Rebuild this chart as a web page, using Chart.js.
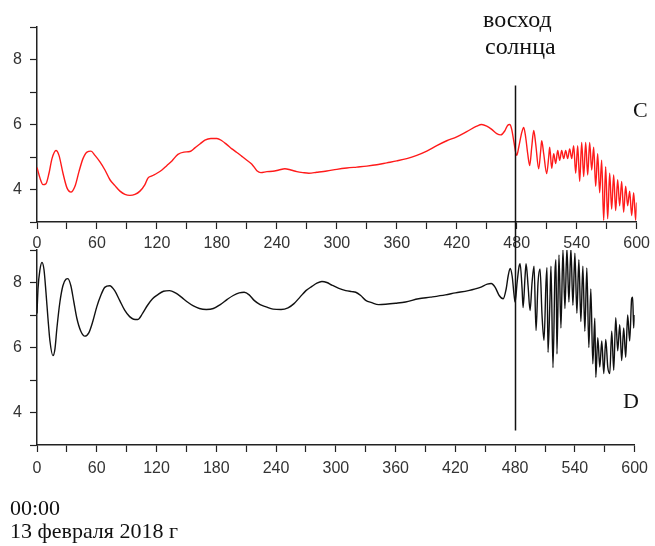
<!DOCTYPE html>
<html><head><meta charset="utf-8">
<script src="https://cdn.jsdelivr.net/npm/chart.js@4.4.1/dist/chart.umd.min.js"></script>
<style>
body{margin:0;background:#fff;width:655px;height:546px;overflow:hidden;position:relative;}
canvas{position:absolute;left:0;top:0;}
.t{position:absolute;color:#111;font-family:"Liberation Serif","Times New Roman",serif;white-space:nowrap;line-height:1;}
</style></head><body>
<canvas id="c1" width="655" height="546"></canvas>
<canvas id="c2" width="655" height="546"></canvas>
<div class="t" style="left:483px;top:7px;font-size:24px">восход</div>
<div class="t" style="left:485px;top:34px;font-size:24px">солнца</div>
<div class="t" style="left:633px;top:99px;font-size:22px">C</div>
<div class="t" style="left:623px;top:390px;font-size:22px">D</div>
<div class="t" style="left:10px;top:497px;font-size:22px">00:00</div>
<div class="t" style="left:10px;top:520px;font-size:22px">13 февраля 2018 г</div>
<script>
// Panel C (red)
const cTimes = [0,3,6,9,12,15,19,22,26,30,34,38,42,46,50,54,58,63,68,73,78,83,88,93,98,103,108,111,115,120,125,130,135,141,147,153,158,163,168,174,180,185,190,195,200,205,210,215,220,224,230,236,242,248,254,260,266,272,280,290,300,310,320,330,340,350,360,370,380,390,400,410,420,430,440,445,450,455,460,464,468,471,473,475,477,480,482,485,487,489,491,493,495,497,499,502,504,505,507,510,512,513,515,517,519,521,523,525,527,529,531,533,535,537,539,541,543,545,547,549,551,553,555,557,559,561,563,565,567,569,571,573,575,577,579,581,583,585,587,589,591,593,595,597,599,600];
const cValues = [4.68,4.35,4.15,4.18,4.5,4.95,5.2,5.05,4.5,4.05,3.92,4.1,4.55,4.95,5.15,5.18,5.05,4.85,4.6,4.3,4.12,3.95,3.85,3.82,3.85,3.95,4.15,4.35,4.42,4.5,4.6,4.74,4.88,5.08,5.15,5.17,5.28,5.4,5.52,5.57,5.57,5.5,5.38,5.25,5.14,5.02,4.9,4.78,4.58,4.52,4.55,4.56,4.6,4.64,4.6,4.55,4.52,4.5,4.53,4.57,4.62,4.66,4.69,4.72,4.76,4.82,4.88,4.95,5.05,5.18,5.35,5.5,5.62,5.78,5.95,6.0,5.95,5.85,5.72,5.68,5.8,5.98,6.0,5.85,5.5,5.05,5.3,5.75,5.91,5.6,5.1,4.74,5.3,5.82,5.4,4.64,5.2,5.5,5.1,4.49,5.0,5.3,4.65,5.1,4.8,5.2,4.9,5.2,4.95,5.2,4.95,5.25,4.95,5.35,4.5,5.35,4.25,5.45,4.4,5.45,4.45,5.45,4.6,5.3,4.1,5.1,3.9,4.9,3.05,4.7,3.1,4.5,3.4,4.45,3.35,4.3,3.5,4.25,3.3,4.1,3.5,3.95,3.2,3.9,3.05,3.6];
// Panel D (black)
const dTimes = [0,1,3,5,7,9,11,13,16,18,20,23,26,29,31,34,37,40,44,48,52,56,60,64,68,73,78,83,88,93,97,101,106,111,116,121,127,133,139,145,151,157,163,170,177,184,191,197,203,208,213,218,224,230,237,245,252,258,264,270,276,281,286,291,296,303,310,316,320,325,330,336,343,350,360,370,383,395,410,420,433,445,452,456,460,464,468,471,473,475,477,479,480,482,484,485,487,488,490,491,493,495,497,499,501,503,505,507,509,511,512,513,515,516,518,520,521,522,524,526,528,530,532,534,536,538,540,542,544,546,548,550,552,554,556,558,560,561,563,565,567,569,571,573,575,577,579,581,583,585,587,589,591,593,595,597,598,599,600];
const dValues = [7.05,7.8,8.4,8.62,8.4,7.7,6.9,6.2,5.75,5.95,6.6,7.4,7.9,8.1,8.12,7.9,7.4,6.9,6.5,6.35,6.45,6.8,7.25,7.6,7.85,7.9,7.75,7.45,7.15,6.95,6.87,6.86,7.05,7.3,7.5,7.62,7.73,7.75,7.68,7.55,7.4,7.28,7.2,7.17,7.2,7.32,7.48,7.6,7.68,7.7,7.62,7.45,7.32,7.25,7.18,7.17,7.22,7.35,7.55,7.75,7.88,7.98,8.03,8.0,7.92,7.82,7.75,7.72,7.7,7.6,7.45,7.38,7.32,7.33,7.36,7.4,7.5,7.55,7.62,7.68,7.75,7.85,7.95,7.97,7.85,7.6,7.5,7.8,8.2,8.43,8.2,7.6,7.4,8.0,8.5,8.58,7.8,7.23,8.2,8.58,7.9,7.14,8.0,8.5,6.52,8.0,8.42,7.0,6.22,8.0,8.46,5.85,7.5,8.5,5.38,8.3,8.7,5.8,8.85,6.6,9.0,7.2,9.05,7.4,9.05,7.3,8.9,7.05,8.7,6.8,8.5,6.5,8.45,6.0,7.8,5.5,6.9,5.08,6.3,5.4,6.2,5.2,6.25,5.4,5.2,6.5,5.3,6.92,5.9,6.7,5.6,6.6,5.7,7.0,6.2,7.5,7.55,6.6,7.0];

const xTickValues = [0,30,60,90,120,150,180,210,240,270,300,330,360,390,420,450,480,510,540,570,600];
const xLabelValues = [0,60,120,180,240,300,360,420,480,540,600];
const yTickValues = [3,4,5,6,7,8,9];
const yLabelValues = [4,6,8];
const sunriseMinute = 480;
const sunriseTopC = 7.2;     // top end of the sunrise line, panel C units
const sunriseBottomD = 3.45; // bottom end, panel D units

const AX = '#222', TXT = '#333';
const tickFont = {family:'"Liberation Sans", Arial, sans-serif', size:16};

function pts(xs, ys){ return xs.map((x,i)=>({x:x,y:ys[i]})); }

function makeOptions(padTop, padBottom, xPad){
  return {
    responsive:false, animation:false, events:[],
    layout:{padding:{top:padTop,bottom:padBottom,left:0,right:17}},
    plugins:{legend:{display:false},tooltip:{enabled:false}},
    elements:{point:{radius:0}},
    scales:{
      x:{type:'linear',min:0,max:600,
        afterFit:s=>{s.height=30;},
        afterBuildTicks:s=>{s.ticks=xTickValues.map(v=>({value:v}));},
        ticks:{autoSkip:false,maxRotation:0,padding:xPad,color:TXT,font:tickFont,
          callback:v=>xLabelValues.includes(v)?String(v):''},
        grid:{display:true,drawOnChartArea:false,drawTicks:true,tickLength:7,tickColor:AX,tickWidth:1.2},
        border:{display:true,color:AX,width:1.5}},
      y:{type:'linear',min:3,max:9,
        afterFit:s=>{s.width=37;},
        afterBuildTicks:s=>{s.ticks=yTickValues.map(v=>({value:v}));},
        ticks:{autoSkip:false,padding:8,color:TXT,font:tickFont,
          callback:v=>yLabelValues.includes(v)?String(v):''},
        grid:{display:true,drawOnChartArea:false,drawTicks:true,tickLength:7,tickColor:AX,tickWidth:1.2},
        border:{display:true,color:AX,width:1.5}}
    }
  };
}

const chartC = new Chart(document.getElementById('c1'), {
  type:'line',
  data:{datasets:[{data:pts(cTimes,cValues),borderColor:'#ff1a1a',borderWidth:1.4,
    cubicInterpolationMode:'monotone',fill:false}]},
  options:makeOptions(27, 546-222-30, 5)
});

const sunrisePlugin = {
  id:'sunrise',
  afterDatasetsDraw(chart){
    const ctx = chart.ctx;
    const x = chart.scales.x.getPixelForValue(sunriseMinute);
    const yTop = chartC.scales.y.getPixelForValue(sunriseTopC);
    const yBot = chart.scales.y.getPixelForValue(sunriseBottomD);
    ctx.save();
    ctx.strokeStyle = '#111'; ctx.lineWidth = 1.5;
    ctx.beginPath(); ctx.moveTo(Math.round(x)+0.5, yTop); ctx.lineTo(Math.round(x)+0.5, yBot); ctx.stroke();
    ctx.restore();
  }
};

const chartD = new Chart(document.getElementById('c2'), {
  type:'line',
  data:{datasets:[{data:pts(dTimes,dValues),borderColor:'#111',borderWidth:1.4,
    cubicInterpolationMode:'monotone',fill:false}]},
  options:makeOptions(250, 546-445-30, 7),
  plugins:[sunrisePlugin]
});
</script>
</body></html>
